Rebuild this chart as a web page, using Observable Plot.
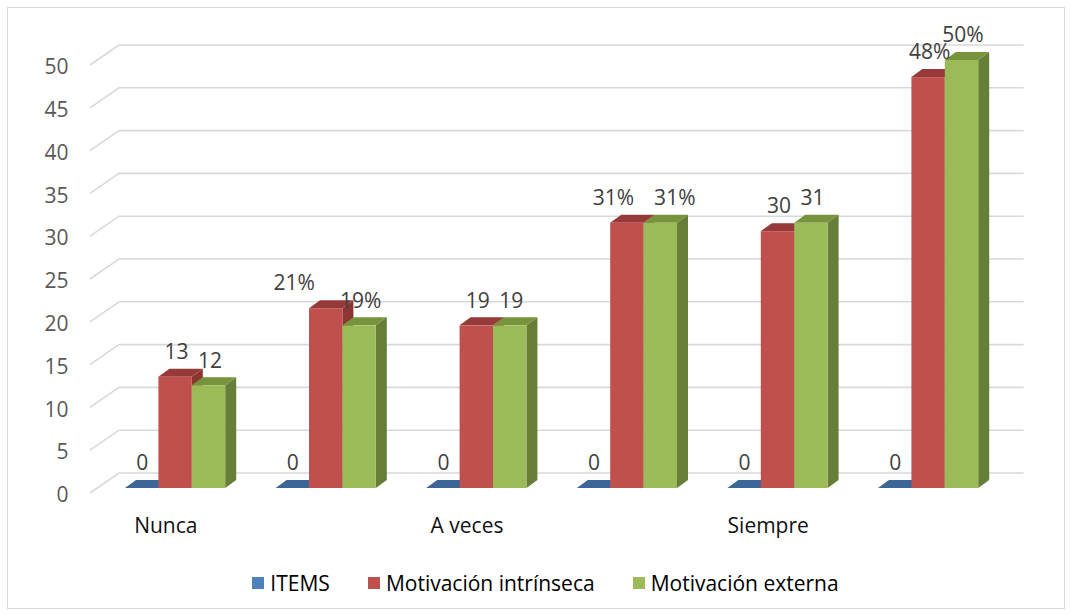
<!DOCTYPE html>
<html><head><meta charset="utf-8">
<script src="https://cdn.jsdelivr.net/npm/d3@7"></script>
<script src="https://cdn.jsdelivr.net/npm/@observablehq/plot@0.6"></script>
<style>
body{margin:0;background:#fff;font-family:"Open Sans",sans-serif;}
#frame{position:absolute;left:7px;top:7px;width:1058px;height:602px;border:1.5px solid #d9d9d9;box-sizing:border-box;pointer-events:none;}
#chart{position:absolute;left:0;top:0;width:1072px;}
.legend{display:flex;justify-content:center;align-items:center;height:46px;padding-left:19px;font-size:21px;color:#000;}
.item{display:flex;align-items:center;margin:0 19px;white-space:nowrap;}
.sw{width:12px;height:12px;margin-right:6px;}
</style></head><body>
<div id="chart"></div><div id="frame"></div>
<script>
// ---- data ----
const categories = ["Nunca", "", "A veces", "", "Siempre", ""];
const seriesNames = ["ITEMS", "Motivación intrínseca", "Motivación externa"];
const itemsValues = [0, 0, 0, 0, 0, 0];
const intrinsecaValues = [13, 21, 19, 31, 30, 48];
const externaValues = [12, 19, 19, 31, 31, 50];
const itemsLabels = ["0", "0", "0", "0", "0", "0"];
const intrinsecaLabels = ["13", "21%", "19", "31%", "30", "48%"];
const externaLabels = ["12", "19%", "19", "31%", "31", "50%"];
const yTicks = [0, 5, 10, 15, 20, 25, 30, 35, 40, 45, 50];

// ---- styling / layout ----
const frontColor = ["#4F81BD", "#C0504D", "#9BBB59"];
const topColor = ["#3C6695", "#953A38", "#77933C"];
const sideColor = ["#385D8A", "#8C3634", "#667E37"];
const GROUP_START = 0.2324, BAR_W = 0.2218;
const DEPTH = [11, -8];
const labelNudge = {"1-1": -32, "3-1": -14, "3-2": 14};

const seriesValues = [itemsValues, intrinsecaValues, externaValues];
const seriesLabels = [itemsLabels, intrinsecaLabels, externaLabels];
const rows = [];
seriesNames.forEach((name, s) => {
  categories.forEach((c, g) => rows.push({
    g, s, name, value: seriesValues[s][g], label: seriesLabels[s][g],
    x1: g + GROUP_START + s * BAR_W, x2: g + GROUP_START + (s + 1) * BAR_W,
    nudge: labelNudge[g + "-" + s] ?? (s === 0 ? 0 : 1)
  }));
});

function wall(index, scales) {
  const {x, y} = scales;
  const g = d3.create("svg:g").attr("stroke", "#d9d9d9").attr("stroke-width", 1.6).attr("fill", "none");
  const x0 = x(0), x6 = x(6);
  for (const v of yTicks) {
    g.append("path").attr("d", `M${x0},${y(v) + 5}L${x0 + 29},${y(v) - 15}L${x6 + 30},${y(v) - 15}`);
  }
  return g.node();
}

function depthFaces(index, scales) {
  const {x, y} = scales;
  const g = d3.create("svg:g");
  const [dx, dy] = DEPTH;
  for (const r of rows) {
    const X1 = x(r.x1), X2 = x(r.x2), Y0 = y(0), Yt = y(r.value);
    if (r.value > 0) {
      g.append("path").attr("d", `M${X2},${Yt}L${X2 + dx},${Yt + dy}L${X2 + dx},${Y0 + dy}L${X2},${Y0}Z`).attr("fill", sideColor[r.s]);
    }
    g.append("path").attr("d", `M${X1},${Yt}L${X1 + dx},${Yt + dy}L${X2 + dx},${Yt + dy}L${X2},${Yt}Z`).attr("fill", topColor[r.s]);
  }
  return g.node();
}

const nudges = [...new Set(rows.map(r => r.nudge))];

const plot = Plot.plot({
  width: 1072,
  height: 560,
  marginLeft: 90,
  marginRight: 78.4,
  marginTop: 60,
  marginBottom: 72,
  style: {fontFamily: "Open Sans, sans-serif", fontSize: "21px", background: "transparent"},
  x: {type: "linear", domain: [0, 6], axis: null},
  y: {type: "linear", domain: [0, 50], axis: null},
  marks: [
    wall,
    Plot.axisY(yTicks, {tickSize: 0, tickPadding: 22, dy: 7, color: "#595959", label: null, fontSize: 21}),
    Plot.axisX(categories.map((c, i) => i + 0.5), {
      tickSize: 0, tickPadding: 30, color: "#111", label: null, fontSize: 21,
      tickFormat: d => categories[Math.floor(d)]
    }),
    depthFaces,
    Plot.rect(rows, {x1: "x1", x2: "x2", y1: 0, y2: "value", fill: d => frontColor[d.s]}),
    ...nudges.map(n => Plot.text(rows.filter(r => r.nudge === n), {
      x: d => (d.x1 + d.x2) / 2, y: "value", text: "label", dy: -25, dx: n,
      fill: "#404040", fontSize: 21
    }))
  ]
});
document.getElementById("chart").appendChild(plot);

const legend = document.createElement("div");
legend.className = "legend";
seriesNames.forEach((name, s) => {
  const it = document.createElement("div");
  it.className = "item";
  const sw = document.createElement("span");
  sw.className = "sw";
  sw.style.background = frontColor[s];
  const t = document.createElement("span");
  t.textContent = name;
  it.appendChild(sw); it.appendChild(t);
  legend.appendChild(it);
});
document.getElementById("chart").appendChild(legend);
</script></body></html>
